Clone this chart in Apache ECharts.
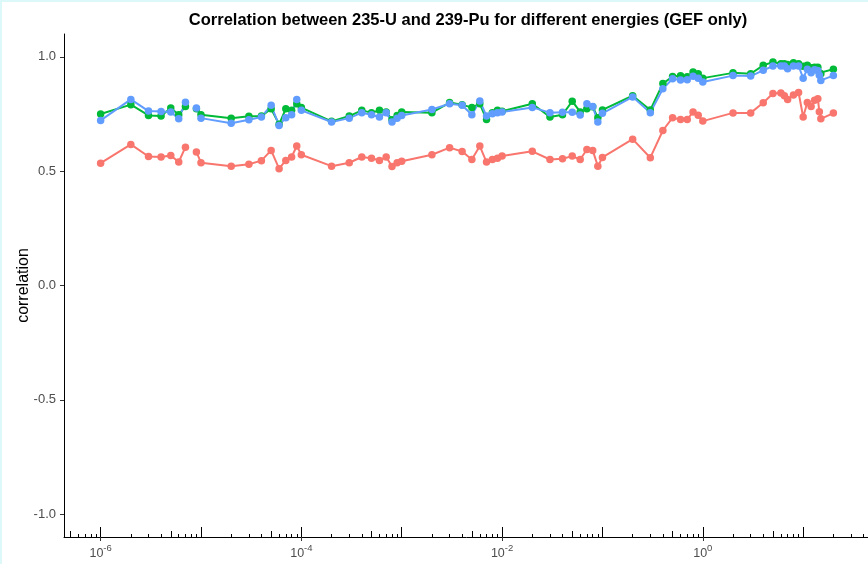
<!DOCTYPE html>
<html>
<head>
<meta charset="utf-8">
<script src="https://cdn.jsdelivr.net/npm/echarts@6/dist/echarts.min.js"></script>
<style>
  html, body { margin: 0; padding: 0; background: #dcf8f9; }
  #chart { position: absolute; left: 2px; top: 2px; width: 866px; height: 562px; background: #fff; }
</style>
</head>
<body>
<div id="chart"></div>
<script>
// energies (MeV); 8e-6 has no value (line break)
const energies = [
  1e-6, 2e-6, 3e-6, 4e-6, 5e-6, 6e-6, 7e-6, 8e-6, 9e-6,
  1e-5, 2e-5, 3e-5, 4e-5, 5e-5, 6e-5, 7e-5, 8e-5, 9e-5,
  1e-4, 2e-4, 3e-4, 4e-4, 5e-4, 6e-4, 7e-4, 8e-4, 9e-4,
  1e-3, 2e-3, 3e-3, 4e-3, 5e-3, 6e-3, 7e-3, 8e-3, 9e-3,
  1e-2, 2e-2, 3e-2, 4e-2, 5e-2, 6e-2, 7e-2, 8e-2, 9e-2,
  0.1, 0.2, 0.3, 0.4, 0.5, 0.6, 0.7, 0.8, 0.9,
  1, 2, 3, 4, 5, 6, 6.5, 7, 8, 9,
  10, 11, 12, 13, 14, 14.5, 15, 20
];
const corrRed = [
  0.535, 0.617, 0.564, 0.562, 0.569, 0.540, 0.605, null, 0.584,
  0.537, 0.522, 0.530, 0.546, 0.591, 0.511, 0.547, 0.562, 0.610,
  0.572, 0.522, 0.537, 0.562, 0.557, 0.547, 0.562, 0.521, 0.537,
  0.543, 0.572, 0.603, 0.586, 0.551, 0.610, 0.540, 0.551, 0.557,
  0.566, 0.587, 0.551, 0.554, 0.566, 0.551, 0.595, 0.591, 0.522,
  0.560, 0.640, 0.559, 0.678, 0.734, 0.726, 0.726, 0.759, 0.745,
  0.719, 0.755, 0.755, 0.799, 0.840, 0.842, 0.830, 0.813, 0.833, 0.844,
  0.737, 0.800, 0.783, 0.810, 0.817, 0.760, 0.729, 0.754
];
const corrGreen = [
  0.750, 0.791, 0.744, 0.741, 0.776, 0.747, 0.783, null, 0.773,
  0.747, 0.732, 0.740, 0.741, 0.773, 0.705, 0.773, 0.766, 0.795,
  0.778, 0.718, 0.741, 0.766, 0.756, 0.766, 0.759, 0.725, 0.744,
  0.759, 0.756, 0.800, 0.791, 0.778, 0.795, 0.726, 0.756, 0.766,
  0.762, 0.795, 0.737, 0.747, 0.806, 0.759, 0.773, 0.782, 0.734,
  0.768, 0.830, 0.768, 0.883, 0.914, 0.917, 0.913, 0.934, 0.926,
  0.907, 0.930, 0.926, 0.963, 0.977, 0.970, 0.970, 0.967, 0.974, 0.970,
  0.959, 0.963, 0.952, 0.955, 0.955, 0.930, 0.926, 0.946
];
const corrBlue = [
  0.722, 0.814, 0.763, 0.761, 0.759, 0.729, 0.802, null, 0.776,
  0.732, 0.710, 0.725, 0.737, 0.788, 0.700, 0.734, 0.747, 0.813,
  0.766, 0.715, 0.732, 0.756, 0.747, 0.737, 0.756, 0.715, 0.732,
  0.744, 0.770, 0.795, 0.788, 0.747, 0.807, 0.741, 0.751, 0.756,
  0.759, 0.779, 0.756, 0.758, 0.758, 0.746, 0.795, 0.783, 0.715,
  0.753, 0.825, 0.756, 0.860, 0.904, 0.899, 0.900, 0.915, 0.906,
  0.890, 0.918, 0.916, 0.941, 0.960, 0.960, 0.960, 0.948, 0.960, 0.960,
  0.907, 0.946, 0.930, 0.944, 0.940, 0.920, 0.897, 0.918
];

const xLabelValues = [1e-6, 1e-4, 1e-2, 1];
const yLabelValues = [-1, -0.5, 0, 0.5, 1];

// log ticks drawn inside the panel (long at 10^k, mid at 5*10^k, short at the rest)
const decades = [1e-7, 1e-6, 1e-5, 1e-4, 1e-3, 1e-2, 1e-1, 1, 10];
const shortMult = [2, 3, 4, 6, 7, 8, 9];

const xMin = Math.pow(10, -6.365);
const xMax = Math.pow(10, 1.666);
const inRange = (v) => v >= xMin && v <= xMax;
const longTicks = decades.filter(inRange);
const midTicks = decades.map((d) => 5 * d).filter(inRange);
const shortTicks = [];
decades.forEach((d) => shortMult.forEach((m) => { if (inRange(m * d)) shortTicks.push(m * d); }));

const textColor = '#4d4d4d';

function logAxis(ticks, len) {
  return {
    type: 'log',
    logBase: 10,
    min: xMin,
    max: xMax,
    position: 'bottom',
    axisLine: { show: false, onZero: false },
    splitLine: { show: false },
    axisLabel: { show: false },
    axisTick: {
      show: true,
      inside: true,
      length: len,
      customValues: ticks,
      lineStyle: { color: '#000', width: 1 },
    },
  };
}

function toPairs(vals) {
  return energies.map((e, i) => [e, vals[i] === null ? '-' : vals[i]]);
}

function lineSeries(name, color, vals) {
  return {
    name,
    type: 'line',
    data: toPairs(vals),
    symbol: 'circle',
    symbolSize: 7.5,
    showSymbol: true,
    connectNulls: false,
    lineStyle: { color, width: 2 },
    itemStyle: { color },
    emphasis: { disabled: true },
  };
}

const chart = echarts.init(document.getElementById('chart'));
chart.setOption({
  animation: false,
  backgroundColor: '#fff',
  title: {
    text: 'Correlation between 235-U and 239-Pu for different energies (GEF only)',
    left: 461,
    top: 5,
    textAlign: 'center',
    textStyle: { fontFamily: 'Liberation Sans', fontWeight: 'bold', fontSize: 16.5, color: '#000' },
  },
  grid: { left: 62, top: 32, width: 806, height: 503, containLabel: false, outerBoundsMode: 'none' },
  xAxis: [
    {
      type: 'log',
      logBase: 10,
      min: xMin,
      max: xMax,
      position: 'bottom',
      axisLine: { show: true, onZero: false, lineStyle: { color: '#000', width: 1 } },
      splitLine: { show: false },
      axisTick: { show: true, length: 4, customValues: xLabelValues, lineStyle: { color: '#333' } },
      axisLabel: {
        customValues: xLabelValues,
        margin: 6,
        formatter: (v) => '{b|10}{s|' + Math.round(Math.log10(v)) + '}',
        rich: {
          b: { fontFamily: 'Liberation Sans', fontSize: 12.5, color: textColor, verticalAlign: 'bottom' },
          s: { fontFamily: 'Liberation Sans', fontSize: 9.5, color: textColor, verticalAlign: 'bottom', padding: [0, 0, 7, 0] },
        },
      },
    },
    logAxis(longTicks, 10),
    logAxis(midTicks, 6),
    logAxis(shortTicks, 3),
  ],
  yAxis: {
    type: 'value',
    min: -1.1,
    max: 1.1,
    name: 'correlation',
    nameLocation: 'middle',
    nameRotate: 90,
    nameGap: 32,
    nameMoveOverlap: false,
    nameTextStyle: { fontFamily: 'Liberation Sans', fontSize: 16, color: '#000' },
    axisLine: { show: true, onZero: false, lineStyle: { color: '#000', width: 1 } },
    splitLine: { show: false },
    axisTick: { show: true, length: 4, customValues: yLabelValues, lineStyle: { color: '#333' } },
    axisLabel: {
      customValues: yLabelValues,
      margin: 8,
      fontFamily: 'Liberation Sans',
      fontSize: 13,
      color: textColor,
      formatter: (v) => v.toFixed(1),
    },
  },
  series: [
    lineSeries('red', '#F8766D', corrRed),
    lineSeries('green', '#00BA38', corrGreen),
    lineSeries('blue', '#619CFF', corrBlue),
  ],
});
</script>
</body>
</html>
